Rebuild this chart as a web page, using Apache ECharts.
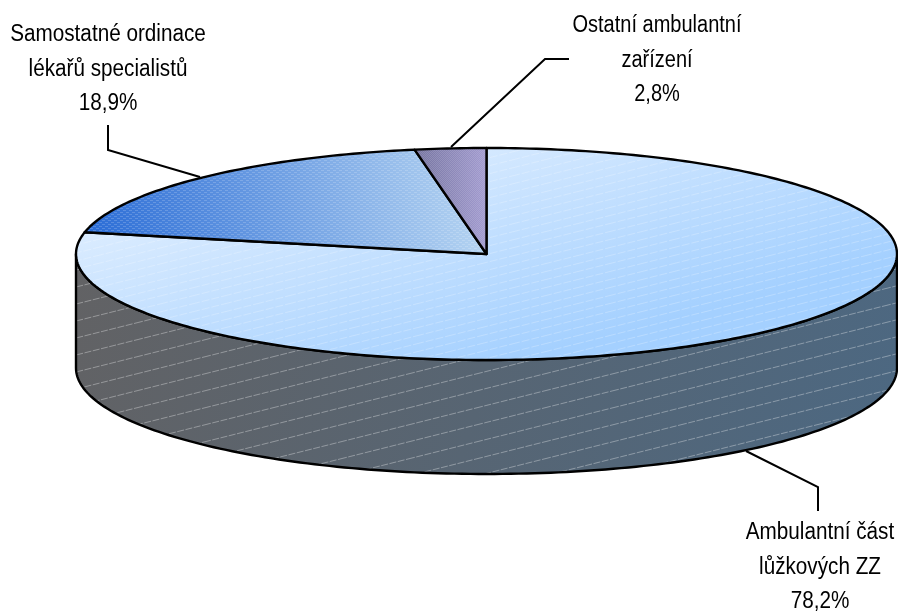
<!DOCTYPE html>
<html>
<head>
<meta charset="utf-8">
<style>html,body{margin:0;padding:0;background:#fff}#c{width:898px;height:611px}</style>
<script src="https://cdn.jsdelivr.net/npm/echarts@6/dist/echarts.min.js"></script>
</head>
<body>
<div id="c"></div>
<script>
const categories = ['Ambulantní část\nlůžkových ZZ', 'Samostatné ordinace\nlékařů specialistů', 'Ostatní ambulantní\nzařízení'];
const values = [78.2, 18.9, 2.8];
const valueLabels = ['78,2%', '18,9%', '2,8%'];

const CX = 486.5, CY = 254, RX = 410.5, RY = 106, DEPTH = 114;
const total = values.reduce((a, b) => a + b, 0);

function ellipsePoint(angle, dy) {
  return [CX + RX * Math.sin(angle), CY + (dy || 0) - RY * Math.cos(angle)];
}
function tile(w, h, draw) {
  const c = document.createElement('canvas');
  c.width = w; c.height = h;
  draw(c.getContext('2d'));
  return c;
}
function diagonal(w, h, alpha, dash) {
  return tile(w, h, g => {
    g.strokeStyle = 'rgba(255,255,255,' + alpha + ')';
    g.lineWidth = 1;
    if (dash) g.setLineDash(dash);
    [0, h, -h].forEach(o => {
      g.beginPath(); g.moveTo(0, h + o); g.lineTo(w, o); g.stroke();
    });
  });
}
const wallPattern = diagonal(68, 17, 0.34, [7, 1.5]);
const topPattern = diagonal(32, 8, 0.24, [8, 2]);
const samPattern = tile(6, 4, g => {
  g.fillStyle = 'rgba(255,255,255,0.18)';
  g.fillRect(0, 0, 3, 1); g.fillRect(3, 2, 3, 1);
});
const ostPattern = tile(2, 2, g => {
  g.fillStyle = 'rgba(255,255,255,0.14)';
  g.fillRect(0, 0, 1, 1); g.fillRect(1, 1, 1, 1);
});

const LG = echarts.graphic.LinearGradient;
const sliceStyles = [
  { fill: new LG(0.5, -0.1, 0.577, 0.97, [{offset: 0, color: '#d9ebff'}, {offset: 1, color: '#a4d0ff'}]), pattern: topPattern },
  { fill: new LG(0, 0.75, 1, 0.25, [{offset: 0, color: '#2a6cd6'}, {offset: 1, color: '#b8d6f2'}]), pattern: samPattern },
  { fill: new LG(0, 0.5, 1, 0.5, [{offset: 0, color: '#74739f'}, {offset: 1, color: '#a29bd0'}]), pattern: ostPattern }
];
const wallFill = new LG(0, 0, 1, 1, [{offset: 0, color: '#626264'}, {offset: 1, color: '#4c6882'}]);

const labelStyles = [
  { x: 820, y: 533, sx: 0.9, line: [[818, 511], [818, 487], [746, 451]] },
  { x: 108, y: 35, sx: 0.9, line: [[108, 125], [108, 150], [200, 177]] },
  { x: 657, y: 26, sx: 0.87, line: [[569, 59], [545, 59], [451, 147]] }
];
const FONT = '23px "Liberation Sans", Arial, sans-serif';
const OUTLINE = 2.4;

function renderItem(params, api) {
  const i = params.dataIndex;
  const start = values.slice(0, i).reduce((a, b) => a + b, 0) / total * Math.PI * 2;
  const end = start + api.value(0) / total * Math.PI * 2;
  const children = [];

  if (i === 0) {
    const wall = [];
    const steps = 160;
    for (let k = 0; k <= steps; k++) wall.push(ellipsePoint(Math.PI / 2 + Math.PI * k / steps));
    const back = [];
    for (let k = steps; k >= 0; k--) back.push(ellipsePoint(Math.PI / 2 + Math.PI * k / steps, DEPTH));
    const pts = wall.concat(back);
    children.push({ type: 'polygon', shape: { points: pts }, style: { fill: wallFill, stroke: null } });
    children.push({ type: 'polygon', shape: { points: pts }, style: { fill: { image: wallPattern, repeat: 'repeat' }, stroke: '#000', lineWidth: OUTLINE, lineJoin: 'round' } });
  }

  const sector = [[CX, CY]];
  const n = Math.max(6, Math.ceil((end - start) / (Math.PI * 2) * 360));
  for (let k = 0; k <= n; k++) sector.push(ellipsePoint(start + (end - start) * k / n));
  const st = sliceStyles[i];
  children.push({ type: 'polygon', shape: { points: sector }, style: { fill: st.fill, stroke: null } });
  children.push({ type: 'polygon', shape: { points: sector }, style: { fill: { image: st.pattern, repeat: 'repeat' }, stroke: '#000', lineWidth: OUTLINE, lineJoin: 'round' } });

  const l = labelStyles[i];
  children.push({ type: 'polyline', shape: { points: l.line }, style: { fill: null, stroke: '#000', lineWidth: 2 } });
  const parts = categories[i].split('\n').concat(valueLabels[i]);
  parts.forEach((t, k) => children.push({
    type: 'text',
    x: l.x,
    y: l.y + k * 34.5,
    scaleX: l.sx,
    style: { text: t, x: 0, y: 0, align: 'center', verticalAlign: 'middle', font: FONT, fill: '#000' }
  }));
  return { type: 'group', children };
}

const chart = echarts.init(document.getElementById('c'), null, { renderer: 'canvas' });
chart.setOption({
  animation: false,
  backgroundColor: '#fff',
  series: [{
    type: 'custom',
    coordinateSystem: 'none',
    silent: true,
    renderItem,
    data: values.map(v => [v])
  }]
});
</script>
</body>
</html>
